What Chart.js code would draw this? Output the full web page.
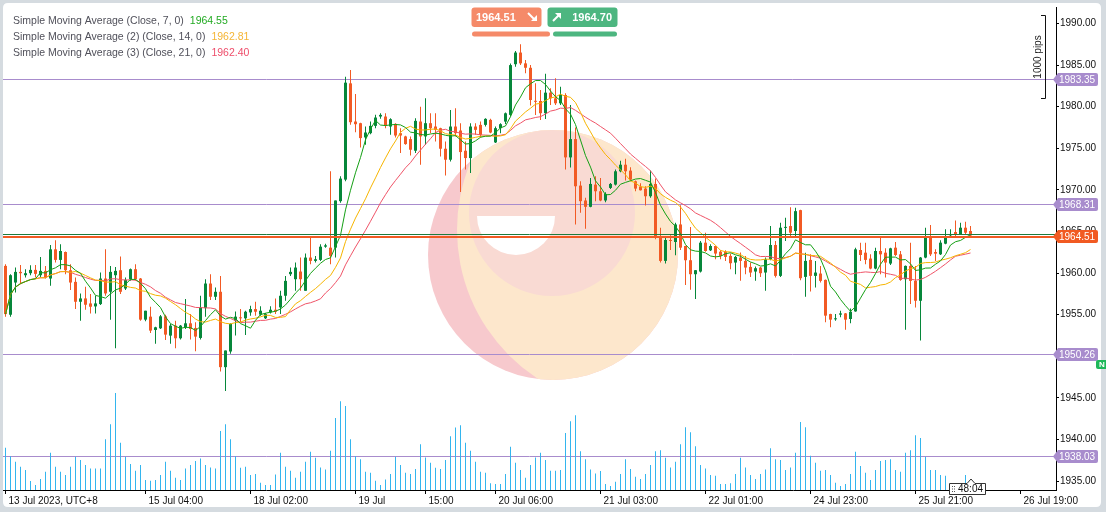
<!DOCTYPE html>
<html>
<head>
<meta charset="utf-8">
<title>XAUUSD H1</title>
<script src="https://cdn.jsdelivr.net/npm/chart.js@4.4.0/dist/chart.umd.min.js"></script>
<style>
  html, body { margin:0; padding:0; background:#d5dbe0; overflow:hidden; }
  #c { display:block; }
</style>
</head>
<body>
<canvas id="c" width="1106" height="512"></canvas>
<script>
// ---------- DATA ----------
const opens = [
1960.86,1954.99,1958.86,1960.14,1959.74,1959.98,1960.38,1959.74,1960.26,1959.34,
1962.85,1961.58,1962.53,1960.34,1958.94,1956.55,1956.95,1956.35,1955.99,1956.27,
1959.34,1957.75,1959.74,1960.34,1958.14,1959.26,1960.46,1959.34,1954.40,1954.76,
1953.16,1953.36,1954.80,1952.48,1953.68,1952.16,1953.48,1953.96,1953.40,1952.20,
1955.79,1958.74,1957.15,1957.75,1948.69,1950.57,1954.28,1954.68,1954.56,1955.27,
1955.67,1955.00,1954.56,1955.27,1955.59,1955.87,1957.27,1959.86,1959.26,1960.18,
1957.87,1961.86,1961.46,1961.58,1963.17,1963.05,1963.05,1968.64,1971.23,1982.80,
1978.21,1978.01,1976.30,1976.81,1977.69,1978.81,1978.81,1977.61,1977.93,1976.81,
1976.42,1976.10,1974.70,1978.21,1976.42,1978.01,1977.61,1977.41,1974.94,1973.62,
1977.61,1977.13,1974.70,1973.82,1977.61,1977.81,1977.81,1978.41,1975.70,1977.41,
1978.20,1979.01,1985.10,1986.50,1985.20,1984.67,1980.68,1980.68,1979.21,1981.68,
1981.00,1980.40,1981.40,1973.90,1976.10,1970.51,1968.72,1967.96,1970.63,1969.83,
1968.72,1970.23,1970.63,1972.23,1973.02,1972.31,1971.03,1970.39,1970.15,1969.23,
1970.71,1964.25,1961.46,1963.97,1963.73,1965.84,1963.25,1961.54,1959.86,1960.18,
1963.65,1962.73,1963.25,1962.57,1962.57,1962.06,1961.26,1961.86,1961.46,1960.74,
1960.18,1960.66,1960.06,1961.66,1963.37,1959.66,1965.45,1965.65,1965.05,1967.56,
1959.54,1961.58,1959.66,1959.94,1959.18,1955.07,1954.44,1955.00,1955.15,1954.48,
1955.39,1962.77,1962.45,1961.74,1960.54,1962.65,1962.45,1961.14,1963.05,1962.25,
1959.26,1960.86,1959.06,1956.67,1961.86,1964.37,1962.53,1962.25,1963.53,1964.53,
1964.93,1964.65,1965.45,1965.05];
const highs = [
1961.06,1959.86,1960.66,1960.98,1960.46,1960.94,1960.98,1961.94,1960.86,1963.37,
1963.95,1963.45,1962.60,1961.06,1959.46,1957.55,1958.34,1957.47,1957.27,1960.06,
1962.85,1960.86,1960.74,1961.98,1959.46,1960.54,1961.06,1959.40,1955.47,1955.95,
1953.56,1954.95,1954.99,1953.88,1954.28,1953.76,1956.87,1955.07,1954.08,1957.27,
1959.26,1959.86,1958.26,1959.66,1950.69,1953.96,1955.39,1955.67,1955.47,1956.07,
1956.55,1956.00,1955.20,1956.00,1956.95,1957.87,1959.66,1960.66,1961.26,1961.86,
1962.34,1964.25,1962.06,1963.45,1963.53,1972.23,1968.72,1971.63,1983.60,1984.39,
1981.52,1978.05,1977.61,1978.21,1979.01,1979.21,1979.21,1978.61,1978.01,1977.41,
1976.50,1976.42,1978.61,1980.00,1981.00,1979.21,1979.21,1977.45,1975.82,1979.61,
1979.81,1978.01,1975.82,1978.01,1978.01,1978.21,1978.61,1978.53,1977.61,1978.01,
1979.30,1985.19,1986.70,1987.50,1985.60,1985.00,1982.80,1982.00,1983.95,1982.20,
1983.40,1982.40,1981.60,1980.20,1977.49,1971.03,1969.04,1971.43,1971.63,1971.43,
1969.71,1970.83,1972.43,1973.50,1973.74,1972.71,1971.11,1970.79,1970.43,1972.31,
1971.35,1965.45,1964.45,1964.53,1966.04,1968.16,1963.29,1965.53,1960.38,1963.85,
1964.85,1963.45,1963.29,1962.73,1962.73,1962.34,1962.06,1962.46,1962.06,1961.26,
1960.78,1960.74,1961.86,1965.65,1963.85,1966.04,1966.64,1967.92,1967.84,1967.60,
1962.45,1962.25,1961.46,1960.86,1959.22,1955.11,1955.07,1955.47,1955.19,1955.75,
1963.05,1963.65,1963.65,1962.25,1963.05,1964.25,1962.97,1963.05,1963.73,1962.65,
1960.90,1963.65,1960.86,1961.94,1965.45,1965.77,1962.85,1963.93,1965.25,1965.25,
1966.32,1966.04,1966.16,1965.65];
const lows = [
1954.76,1954.76,1957.67,1958.66,1959.46,1959.74,1959.46,1959.46,1959.34,1958.46,
1961.26,1960.46,1959.86,1957.95,1955.67,1954.28,1955.59,1955.15,1955.15,1956.15,
1957.27,1954.40,1950.97,1957.47,1957.95,1959.06,1959.06,1954.28,1954.20,1952.80,
1951.49,1953.28,1951.96,1951.49,1950.97,1952.00,1953.28,1952.00,1950.61,1952.00,
1954.76,1956.75,1956.75,1948.17,1945.82,1950.29,1952.48,1954.08,1952.56,1954.88,
1954.88,1954.88,1954.48,1955.15,1955.07,1955.07,1956.67,1959.66,1957.87,1957.87,
1957.87,1961.06,1961.26,1961.46,1963.05,1961.06,1961.86,1968.44,1971.03,1977.81,
1976.93,1975.10,1975.42,1976.69,1977.41,1978.53,1977.41,1976.61,1976.30,1974.42,
1975.42,1974.14,1974.42,1973.03,1975.42,1976.81,1975.82,1974.02,1971.71,1973.42,
1976.42,1969.75,1972.43,1972.03,1976.61,1976.30,1977.61,1976.81,1975.62,1976.81,
1977.90,1978.81,1984.80,1985.00,1984.00,1980.13,1979.00,1978.40,1978.50,1980.20,
1980.20,1980.20,1972.43,1972.70,1965.84,1967.24,1965.33,1967.92,1968.64,1968.64,
1968.52,1970.11,1970.51,1972.11,1971.11,1971.03,1969.83,1969.91,1968.12,1969.04,
1964.05,1961.26,1961.14,1962.77,1962.14,1962.77,1958.55,1957.99,1956.87,1960.06,
1962.57,1962.65,1961.66,1961.66,1961.46,1960.46,1959.86,1959.06,1959.86,1959.54,
1959.06,1959.54,1957.87,1961.54,1959.46,1959.54,1963.85,1964.45,1964.45,1959.14,
1957.15,1957.79,1958.27,1958.86,1954.08,1953.48,1954.28,1954.68,1953.20,1953.96,
1955.35,1961.46,1961.06,1960.46,1960.46,1959.86,1959.46,1960.98,1962.06,1959.06,
1953.20,1956.27,1955.87,1951.88,1961.78,1962.06,1961.46,1962.17,1963.45,1964.45,
1964.45,1964.57,1964.57,1964.25];
const closes = [
1955.07,1959.74,1960.14,1959.98,1959.98,1960.38,1959.90,1960.26,1959.46,1962.85,
1961.58,1962.65,1960.34,1958.86,1956.55,1956.95,1956.19,1955.95,1956.35,1959.34,
1957.55,1960.14,1960.26,1957.75,1959.18,1960.46,1959.26,1954.40,1955.47,1953.08,
1953.48,1954.80,1952.60,1953.68,1952.16,1953.68,1953.96,1953.28,1952.36,1955.87,
1958.74,1957.15,1957.75,1948.69,1950.69,1953.88,1954.76,1954.56,1955.35,1955.67,
1955.35,1955.47,1955.07,1955.59,1955.35,1957.27,1959.06,1960.14,1960.66,1959.26,
1961.86,1961.46,1961.66,1963.17,1963.33,1962.06,1968.72,1971.35,1982.88,1978.13,
1977.89,1976.22,1976.89,1977.69,1978.69,1979.01,1977.69,1978.49,1976.53,1976.53,
1975.50,1974.82,1978.29,1976.42,1978.01,1977.41,1977.21,1974.94,1973.62,1977.61,
1976.81,1974.54,1973.82,1977.61,1977.21,1976.61,1978.53,1976.89,1977.41,1977.89,
1979.20,1984.99,1986.50,1985.20,1984.67,1980.80,1980.60,1979.21,1981.68,1981.00,
1980.40,1981.40,1973.90,1976.10,1970.43,1968.64,1967.96,1970.71,1969.83,1968.72,
1969.51,1970.71,1972.23,1973.02,1972.23,1971.23,1970.15,1969.95,1969.23,1970.71,
1964.25,1961.46,1963.97,1963.85,1965.84,1963.05,1961.54,1959.86,1960.34,1963.65,
1962.65,1963.25,1962.34,1962.06,1961.94,1961.18,1961.94,1961.46,1960.66,1960.06,
1960.58,1959.98,1961.66,1963.37,1959.66,1965.45,1965.53,1964.85,1967.44,1959.38,
1961.46,1959.66,1960.06,1959.06,1954.88,1954.40,1954.56,1955.15,1954.40,1955.35,
1962.85,1962.17,1961.58,1960.54,1962.65,1962.25,1961.26,1962.97,1962.17,1959.18,
1960.86,1959.06,1956.67,1961.86,1964.37,1962.25,1962.33,1963.65,1964.45,1964.65,
1964.65,1965.45,1964.85,1964.51];
const volumes = [
127,102,85,70,60,27,15,33,55,112,
70,55,45,70,100,90,75,65,65,65,
153,198,292,142,100,78,58,75,30,28,
30,45,85,58,37,30,65,75,87,95,
75,68,65,178,198,153,102,67,70,45,
48,22,15,15,47,112,70,58,37,55,
85,115,97,68,62,118,217,267,253,153,
102,93,55,52,28,15,32,48,100,75,
52,48,63,138,98,82,67,63,90,162,
188,195,142,118,85,55,52,20,18,18,
48,130,82,60,37,75,98,112,90,58,
58,60,172,207,225,117,93,62,50,57,
18,12,25,48,93,63,40,33,48,75,
117,120,97,68,85,138,189,174,132,75,
65,45,43,18,18,20,48,97,68,45,
33,48,62,126,93,90,60,68,112,205,
189,103,82,58,60,45,22,12,18,48,
115,72,52,30,60,87,90,93,60,55,
112,120,165,157,100,60,60,45,43,15,
12,15,45,8];

const xTickIndex  = [0, 28, 49, 70, 84, 98, 119, 140, 161, 182, 203];
const xTickLabels = ['13 Jul 2023, UTC+8','15 Jul 04:00','18 Jul 02:00','19 Jul','15:00','20 Jul 06:00',
                     '21 Jul 03:00','22 Jul 01:00','24 Jul 23:00','25 Jul 21:00','26 Jul 19:00'];
const priceTicks  = [1935,1940,1945,1950,1955,1960,1965,1970,1975,1980,1985,1990];
const levelLines  = [1983.35, 1968.31, 1950.26, 1938.03];
const bidPrice = 1964.51;
const askPrice = 1964.70;
const smaPeriods = [7, 14, 21];
const smaNames = ['Simple Moving Average (Close, 7, 0)',
                  'Simple Moving Average (2) (Close, 14, 0)',
                  'Simple Moving Average (3) (Close, 21, 0)'];
const smaLegendValues = ['1964.55', '1962.81', '1962.40'];
const pipsRange = [1981, 1991];
const pipsLabel = '1000 pips';
const timerLabel = '48:04';

// ---------- STYLE ----------
const FONT = '"Liberation Sans", Arial, sans-serif';
const COL = {
  up:'#06873a', down:'#f25a24', vol:'#33b5ee', level:'#a88ccd', bid:'#f15a22', ask:'#1d7a3c',
  sma:['#15a015', '#f7b500', '#f05468'], smaText:['#22aa22', '#f5b535', '#ee4d6a'],
  legend:'#50505a', axis:'#000', tick:'#111'
};
Chart.defaults.font.family = FONT;

function sma(values, p) {
  return values.map((v, i) => {
    const s = Math.max(0, i - p + 1);
    let sum = 0;
    for (let k = s; k <= i; k++) sum += values[k];
    return sum / (i - s + 1);
  });
}
const isUp = i => closes[i] >= opens[i];
const wickData = closes.map((c, i) => ({ x: i, y: [lows[i], highs[i]] }));
const bodyData = closes.map((c, i) => {
  let a = opens[i], b = c;
  if (Math.abs(a - b) < 0.12) { const m = (a + b) / 2; a = m - 0.06; b = m + 0.06; }
  return { x: i, y: [a, b] };
});
const volData = volumes.map((v, i) => ({ x: i, y: v }));

// chart-area geometry (top 5, bottom 490, 8.355 px per price unit)
const AREA_TOP = 5, AREA_BOTTOM = 490, PX_PER_UNIT = 8.355, Y_1990 = 21.5;
const PMAX = 1990 + (Y_1990 - AREA_TOP) / PX_PER_UNIT;
const PMIN = 1990 - (AREA_BOTTOM - Y_1990) / PX_PER_UNIT;
const VMAX = 3 * (AREA_BOTTOM - AREA_TOP);

function rr(ctx, x, y, w, h, r) {
  ctx.beginPath();
  ctx.moveTo(x + r, y); ctx.lineTo(x + w - r, y); ctx.quadraticCurveTo(x + w, y, x + w, y + r);
  ctx.lineTo(x + w, y + h - r); ctx.quadraticCurveTo(x + w, y + h, x + w - r, y + h);
  ctx.lineTo(x + r, y + h); ctx.quadraticCurveTo(x, y + h, x, y + h - r);
  ctx.lineTo(x, y + r); ctx.quadraticCurveTo(x, y, x + r, y); ctx.closePath();
}

const decor = {
  id: 'decor',
  beforeDraw(chart) {
    const ctx = chart.ctx;
    ctx.save();
    ctx.fillStyle = '#d5dbe0'; ctx.fillRect(0, 0, chart.width, chart.height);
    ctx.fillStyle = '#ffffff'; rr(ctx, 3, 3, 1098, 504, 5); ctx.fill();
    ctx.restore();
  },
  beforeDatasetsDraw(chart) {
    const ctx = chart.ctx, a = chart.chartArea, ys = chart.scales.y;
    // watermark logo
    ctx.save();
    ctx.beginPath(); ctx.rect(a.left, a.top, a.right - a.left, a.bottom - a.top); ctx.clip();
    ctx.beginPath(); ctx.arc(553, 255, 125, 0, Math.PI * 2); ctx.clip();
    ctx.fillStyle = '#f7c9cd'; ctx.fillRect(420, 120, 270, 270);
    ctx.fillStyle = '#fde7cc'; ctx.beginPath(); ctx.arc(634, 230, 177, 0, Math.PI * 2); ctx.fill();
    ctx.fillStyle = '#f9dad3'; ctx.beginPath(); ctx.arc(552, 213, 83, 0, Math.PI * 2); ctx.fill();
    ctx.fillStyle = '#ffffff'; ctx.beginPath(); ctx.arc(516, 216, 39, 0, Math.PI, false); ctx.closePath(); ctx.fill();
    ctx.restore();
    // level lines
    ctx.save();
    ctx.strokeStyle = COL.level; ctx.lineWidth = 1;
    levelLines.forEach(v => {
      const y = Math.round(ys.getPixelForValue(v)) + 0.5;
      ctx.beginPath(); ctx.moveTo(a.left, y); ctx.lineTo(a.right, y); ctx.stroke();
    });
    ctx.restore();
  },
  afterDatasetsDraw(chart) {
    const ctx = chart.ctx, a = chart.chartArea, ys = chart.scales.y;
    ctx.save();
    const ya = Math.round(ys.getPixelForValue(askPrice)) + 0.5;
    ctx.strokeStyle = COL.ask; ctx.lineWidth = 1;
    ctx.beginPath(); ctx.moveTo(a.left, ya); ctx.lineTo(a.right, ya); ctx.stroke();
    const yb = Math.round(ys.getPixelForValue(bidPrice)) + 1;
    ctx.strokeStyle = COL.bid; ctx.lineWidth = 2;
    ctx.beginPath(); ctx.moveTo(a.left, yb); ctx.lineTo(a.right, yb); ctx.stroke();
    ctx.restore();
  },
  afterDraw(chart) {
    const ctx = chart.ctx, a = chart.chartArea, ys = chart.scales.y, xs = chart.scales.x;
    ctx.save();
    // legend
    ctx.textBaseline = 'middle'; ctx.textAlign = 'left';
    ctx.font = '10.5px ' + FONT;
    smaNames.forEach((n, k) => {
      const y = 21 + k * 16;
      ctx.fillStyle = COL.legend; ctx.fillText(n, 13, y);
      const w = ctx.measureText(n).width;
      ctx.fillStyle = COL.smaText[k]; ctx.fillText(smaLegendValues[k], 13 + w + 6, y);
    });
    // bid / ask badges
    ctx.fillStyle = '#f58a69'; rr(ctx, 471.5, 7.5, 70, 19.5, 3); ctx.fill();
    ctx.fillStyle = '#4db680'; rr(ctx, 547.5, 7.5, 70, 19.5, 3); ctx.fill();
    ctx.fillStyle = '#f58a69'; rr(ctx, 472, 31.5, 78, 5, 2.5); ctx.fill();
    ctx.fillStyle = '#4db680'; rr(ctx, 553, 31.5, 64, 5, 2.5); ctx.fill();
    ctx.fillStyle = '#fff'; ctx.font = 'bold 11px ' + FONT;
    ctx.fillText(bidPrice.toFixed(2), 476, 17.5);
    ctx.textAlign = 'right'; ctx.fillText(askPrice.toFixed(2), 612, 17.5); ctx.textAlign = 'left';
    ctx.strokeStyle = '#fff'; ctx.lineWidth = 2;
    ctx.beginPath(); ctx.moveTo(528, 13); ctx.lineTo(534, 19); ctx.stroke();
    ctx.beginPath(); ctx.moveTo(537, 21); ctx.lineTo(531, 21); ctx.lineTo(537, 15); ctx.closePath(); ctx.fill();
    ctx.beginPath(); ctx.moveTo(553, 21); ctx.lineTo(559, 15); ctx.stroke();
    ctx.beginPath(); ctx.moveTo(561, 13); ctx.lineTo(555, 13); ctx.lineTo(561, 19); ctx.closePath(); ctx.fill();
    // right-axis tags
    const tag = (v, color) => {
      const yy = Math.round(ys.getPixelForValue(v)) + 0.5, x0 = 1053, x1 = 1098, h = 13;
      ctx.fillStyle = color;
      ctx.beginPath();
      ctx.moveTo(x0, yy); ctx.lineTo(x0 + 5, yy - h / 2); ctx.lineTo(x1 - 2, yy - h / 2);
      ctx.quadraticCurveTo(x1, yy - h / 2, x1, yy - h / 2 + 2); ctx.lineTo(x1, yy + h / 2 - 2);
      ctx.quadraticCurveTo(x1, yy + h / 2, x1 - 2, yy + h / 2); ctx.lineTo(x0 + 5, yy + h / 2);
      ctx.closePath(); ctx.fill();
      ctx.fillStyle = '#fff'; ctx.font = '10px ' + FONT; ctx.textBaseline = 'middle';
      ctx.fillText(v.toFixed(2), x0 + 6, yy + 0.5);
    };
    levelLines.forEach(v => tag(v, COL.level));
    tag(bidPrice, COL.bid);
    // 1000 pips bracket
    const pt = Math.round(ys.getPixelForValue(pipsRange[1])) + 0.5;
    const pb = Math.round(ys.getPixelForValue(pipsRange[0])) + 0.5;
    ctx.strokeStyle = '#111'; ctx.lineWidth = 1;
    ctx.beginPath(); ctx.moveTo(1041, pt); ctx.lineTo(1045.5, pt); ctx.lineTo(1045.5, pb); ctx.lineTo(1041, pb); ctx.stroke();
    ctx.save(); ctx.translate(1038, (pt + pb) / 2); ctx.rotate(-Math.PI / 2);
    ctx.fillStyle = '#222'; ctx.font = '10px ' + FONT; ctx.textAlign = 'center'; ctx.textBaseline = 'middle';
    ctx.fillText(pipsLabel, 0, 0); ctx.restore();
    // countdown timer box at last candle
    const tx = Math.round(xs.getPixelForValue(closes.length - 1));
    ctx.fillStyle = '#fff'; ctx.strokeStyle = '#333';
    ctx.beginPath();
    ctx.moveTo(tx - 21.5, 483.5); ctx.lineTo(tx - 4, 483.5); ctx.lineTo(tx, 479); ctx.lineTo(tx + 4, 483.5);
    ctx.lineTo(tx + 14.5, 483.5); ctx.lineTo(tx + 14.5, 494.5); ctx.lineTo(tx - 21.5, 494.5); ctx.closePath();
    ctx.fill(); ctx.stroke();
    ctx.fillStyle = '#555';
    for (let r = 0; r < 3; r++) for (let c = 0; c < 2; c++) ctx.fillRect(tx - 19 + c * 2, 486 + r * 2.5, 1, 1);
    ctx.fillStyle = '#111'; ctx.font = '10px ' + FONT; ctx.textAlign = 'left'; ctx.textBaseline = 'middle';
    ctx.fillText(timerLabel, tx - 13, 489.5);
    // green N badge
    ctx.fillStyle = '#1fb85a'; rr(ctx, 1096, 360, 16, 9, 2); ctx.fill();
    ctx.fillStyle = '#fff'; ctx.font = 'bold 8px ' + FONT; ctx.fillText('N', 1099, 365);
    ctx.restore();
  }
};

new Chart(document.getElementById('c'), {
  type: 'bar',
  data: {
    datasets: [
      ...smaPeriods.map((p, k) => ({
        type: 'line', label: smaNames[k],
        data: sma(closes, p).map((v, i) => ({ x: i, y: v })),
        borderColor: COL.sma[k], borderWidth: 1, pointRadius: 0, tension: 0,
        order: 1 + k * 0.1, yAxisID: 'y'
      })),
      { label: 'body', data: bodyData, yAxisID: 'y',
        backgroundColor: c => isUp(c.dataIndex) ? COL.up : COL.down,
        barThickness: 3, grouped: false, inflateAmount: 0, borderWidth: 0, order: 2 },
      { label: 'wick', data: wickData, yAxisID: 'y',
        backgroundColor: c => isUp(c.dataIndex) ? COL.up : COL.down,
        barThickness: 1, grouped: false, inflateAmount: 0, borderWidth: 0, order: 3 },
      { label: 'volume', data: volData, yAxisID: 'yv',
        backgroundColor: COL.vol, barThickness: 1, grouped: false, inflateAmount: 0, borderWidth: 0, order: 4 }
    ]
  },
  options: {
    responsive: false, animation: false, devicePixelRatio: 1, events: [],
    layout: { padding: { left: 3, top: AREA_TOP, right: 0, bottom: 0 } },
    plugins: { legend: { display: false }, tooltip: { enabled: false } },
    scales: {
      x: {
        type: 'linear', position: 'bottom', min: -0.5, max: 210.1, offset: false,
        grid: { display: true, drawOnChartArea: false, drawTicks: true, tickLength: 4, tickColor: COL.axis, offset: false },
        border: { display: true, color: COL.axis, width: 1 },
        afterBuildTicks: s => { s.ticks = xTickIndex.map(v => ({ value: v })); },
        afterFit: s => { s.height = 512 - AREA_BOTTOM; },
        ticks: { autoSkip: false, maxRotation: 0, minRotation: 0, align: 'start', labelOffset: 3, padding: 1,
                 color: COL.tick, font: { size: 10, family: FONT }, callback: (v, i) => xTickLabels[i] }
      },
      y: {
        type: 'linear', position: 'right', min: PMIN, max: PMAX,
        grid: { display: true, drawOnChartArea: false, drawTicks: true, tickLength: 3, tickColor: COL.axis },
        border: { display: true, color: COL.axis, width: 1 },
        afterBuildTicks: s => { s.ticks = priceTicks.map(v => ({ value: v })); },
        afterFit: s => { s.width = 50; },
        ticks: { padding: 1, color: COL.tick, font: { size: 10, family: FONT }, callback: v => Number(v).toFixed(2) }
      },
      yv: { type: 'linear', display: false, min: 0, max: VMAX }
    }
  },
  plugins: [decor]
});
</script>
</body>
</html>
